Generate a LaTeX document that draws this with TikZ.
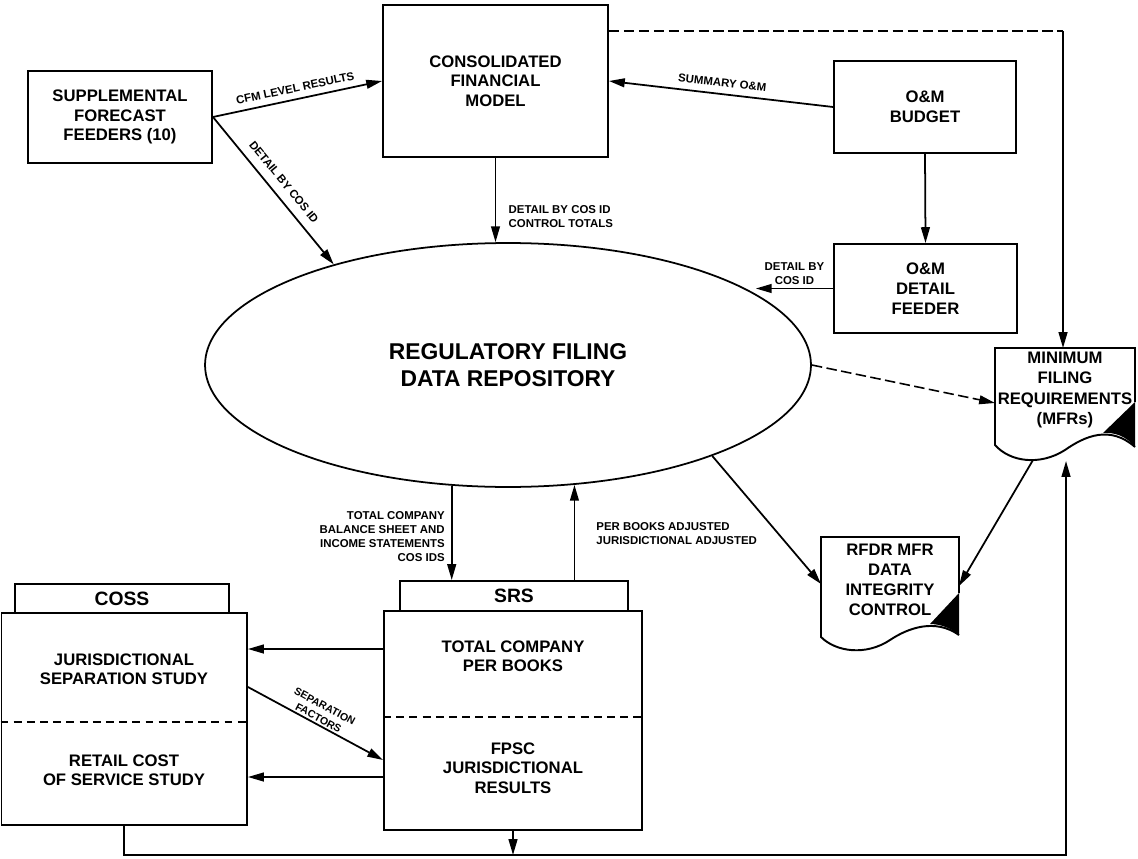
\documentclass[tikz,border=0pt]{standalone}
\usepackage{fontspec}
\setmainfont{Liberation Sans}
\usetikzlibrary{arrows.meta,shapes.geometric}

\begin{document}
\begin{tikzpicture}[
    x=0.02cm, y=-0.02cm,
    box/.style={draw, line width=1.1pt, font=\fontsize{9.5}{11.2}\selectfont\bfseries, align=center, inner sep=0pt},
    txt/.style={font=\fontsize{9.5}{11}\selectfont\bfseries, align=center, inner sep=0pt},
    tabbox/.style={draw, line width=1.1pt, font=\fontsize{11}{13}\selectfont\bfseries, inner sep=0pt},
    lbl/.style={font=\fontsize{6.5}{8}\selectfont\bfseries, inner sep=3.5pt},
    arr/.style={-{Triangle[length=9pt,width=5pt]}, line width=1pt},
    sepln/.style={line width=0.9pt, dash pattern=on 4.5pt off 3pt},
    dashln/.style={line width=0.9pt, dash pattern=on 6pt off 2.5pt},
  ]
    \useasboundingbox (0,0) rectangle (1138,858);
    % feeders and models
    \node[box, minimum width=3.68cm, minimum height=1.84cm] (sup) at (120,117) {SUPPLEMENTAL\\FORECAST\\FEEDERS (10)};
    \node[box, minimum width=4.50cm, minimum height=3.04cm] (cfm) at (495.5,81) {CONSOLIDATED\\FINANCIAL\\MODEL};
    \node[box, minimum width=3.64cm, minimum height=1.84cm] (bud) at (925,107) {O\&M\\BUDGET};
    \node[box, minimum width=3.66cm, minimum height=1.78cm] (fdr) at (925.5,288.5) {O\&M\\DETAIL\\FEEDER};
    % repository
    \node[draw, ellipse, line width=1pt, minimum width=12.12cm, minimum height=4.88cm,
      font=\fontsize{13}{15.3}\selectfont\bfseries, align=center] (repo) at (508,365) {REGULATORY FILING\\DATA REPOSITORY};
    % documents
    \draw[line width=1.1pt] (1135,402) -- (1135,348) -- (995,348) -- (995,445)
      .. controls (1010,462) and (1040,466) .. (1065,450)
      .. controls (1085,436) and (1110,425) .. (1135,447);
    \fill (1103,433) -- (1135,402) -- (1135,447) .. controls (1126,436) and (1114,432) .. cycle;
    \node[txt, font=\fontsize{9.5}{11.4}\selectfont\bfseries] (mfr) at (1065,390) {MINIMUM\\FILING\\REQUIREMENTS\\(MFRs)};
    \draw[line width=1.1pt] (959,593) -- (959,537) -- (821,537) -- (821,637)
      .. controls (836,652) and (866,656) .. (890,640)
      .. controls (908,628) and (935,618) .. (959,635);
    \fill (930,624) -- (959,593) -- (959,635) .. controls (951,628) and (940,624) .. cycle;
    \node[txt, font=\fontsize{9.5}{11.4}\selectfont\bfseries] (rfdr) at (890,580) {RFDR MFR\\DATA\\INTEGRITY\\CONTROL};
    \coordinate (mfrw) at (995,403);
    \coordinate (mfrn) at (1063,348);
    \coordinate (mfrlow) at (1033,460);
    \coordinate (mfrin) at (1066,461);
    \coordinate (rfdrw) at (821,584);
    \coordinate (rfdre) at (959,586);
    % study boxes
    \node[tabbox, minimum width=4.28cm, minimum height=0.58cm] (cosstab) at (122,598.5) {COSS};
    \node[draw, line width=1.1pt, minimum width=4.91cm, minimum height=4.24cm] (coss) at (124.25,719) {};
    \node[tabbox, minimum width=4.56cm, minimum height=0.60cm] (srstab) at (514,596) {SRS};
    \node[draw, line width=1.1pt, minimum width=5.16cm, minimum height=4.38cm] (srs) at (513,720.5) {};
    \draw[sepln] (coss.west |- 0,722) -- (coss.east |- 0,722);
    \draw[sepln] (srs.west |- 0,717) -- (srs.east |- 0,717);
    \node[txt] (jss) at (124,669.5) {JURISDICTIONAL\\SEPARATION STUDY};
    \node[txt] (rcs) at (124,770.5) {RETAIL COST\\OF SERVICE STUDY};
    \node[txt] (tpb) at (513,656.5) {TOTAL COMPANY\\PER BOOKS};
    \node[txt] (fjr) at (513,768) {FPSC\\JURISDICTIONAL\\RESULTS};
    % flows into the repository
    \draw[arr] (sup.east) -- node[lbl, sloped, above] {CFM LEVEL RESULTS} (cfm.west);
    \draw[arr] (sup.east) -- node[lbl, sloped, above, inner sep=5pt] {DETAIL BY COS ID} (repo.150);
    \draw[arr] (bud.west) -- node[lbl, sloped, above] {SUMMARY O\&M} (cfm.east);
    \draw[arr] (cfm.south) -- node[lbl, pos=0.70, right, xshift=3.5pt, align=left] {DETAIL BY COS ID\\CONTROL TOTALS} (cfm.south |- repo.north);
    \draw[arr] (bud.south) -- (fdr.north);
    \draw[arr] (fdr.west) -- node[lbl, above, yshift=-2pt, align=center] {DETAIL BY\\COS ID} (fdr.west -| repo.16);
    % repository to filings
    \coordinate (topr) at (1063,31);
    \draw[dashln] (cfm.east |- topr) -- (topr);
    \draw[arr] (topr) -- (mfrn);
    \draw[arr, dashln] (repo.east) -- (mfrw);
    \draw[arr] (repo.-24) -- (rfdrw);
    \draw[arr] (mfrlow) -- (rfdre);
    % repository and studies
    \draw[arr] (repo.-115) -- node[lbl, pos=0.54, left, align=right] {TOTAL COMPANY\\BALANCE SHEET AND\\INCOME STATEMENTS\\COS IDS} (repo.-115 |- srstab.north);
    \draw[arr] (repo.-61 |- srstab.north) -- node[lbl, pos=0.49, right, xshift=8.5pt, align=left] {PER BOOKS ADJUSTED\\JURISDICTIONAL ADJUSTED} (repo.-61);
    \draw[arr] (srs.west |- 0,649) -- (coss.east |- 0,649);
    \draw[arr] (srs.west |- 0,777) -- (coss.east |- 0,777);
    \draw[arr] (coss.east |- 0,687) -- node[lbl, sloped, above, inner sep=1pt, align=center, font=\fontsize{6}{7.5}\selectfont\bfseries] {SEPARATION\\FACTORS} (srs.west |- 0,760);
    % feedback loop
    \coordinate (loopr) at (1066,855);
    \draw[arr] (coss.south) |- (loopr) -- (mfrin);
    \draw[arr] (srs.south) -- (srs.south |- loopr);
\end{tikzpicture}
\end{document}
